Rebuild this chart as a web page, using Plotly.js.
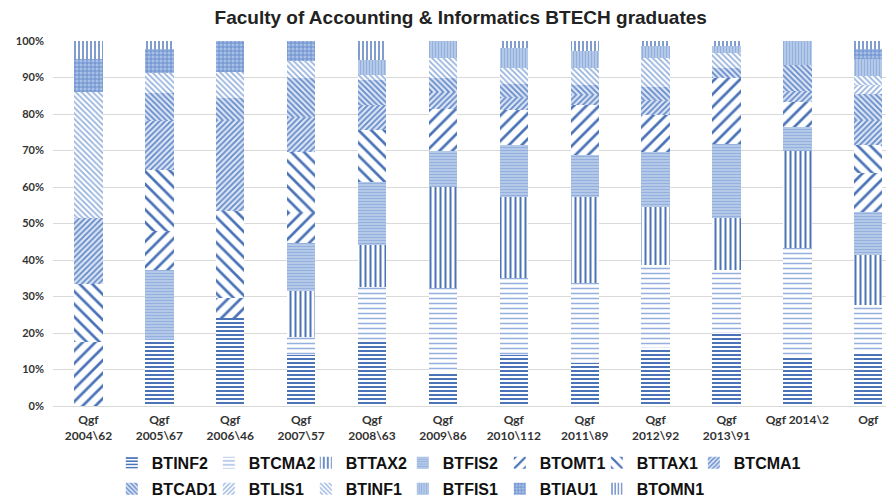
<!DOCTYPE html>
<html>
<head>
<meta charset="utf-8">
<script src="https://cdn.plot.ly/plotly-3.0.1.min.js"></script>
<style>html,body{margin:0;padding:0;background:#fff;}#chart{width:886px;height:498px;}</style>
</head>
<body>
<div id="chart"></div>
<script>
var categories = ["Qgf<br>2004\\62","Qgf<br>2005\\67","Qgf<br>2006\\46","Qgf<br>2007\\57","Qgf<br>2008\\63","Qgf<br>2009\\86","Qgf<br>2010\\112","Qgf<br>2011\\89","Qgf<br>2012\\92","Qgf<br>2013\\91","Qgf 2014\\2","Ogf"];

var BTINF2 = [0, 18, 24, 14, 17.5, 9.3, 14, 11.8, 15.9, 20, 13.4, 14.8];
var BTCMA2 = [0, 0, 0, 4.9, 15.1, 23, 21, 21.9, 22.7, 17.3, 29.9, 12.9];
var BTTAX2 = [0, 0, 0, 12.6, 11.4, 27.7, 22.3, 23.6, 15.9, 14.2, 26.7, 13.7];
var BTFIS2 = [0, 19.3, 0, 13.2, 17.4, 10, 14.2, 11.5, 15.1, 20.4, 6.4, 11.8];
var BTOMT1 = [17.5, 10.7, 5.6, 8.3, 0, 11.4, 9.5, 13.7, 10.1, 18.1, 6.9, 10.6];
var BTTAX1 = [16, 16.7, 23.9, 16.6, 14.2, 0, 0, 0, 0, 0, 0, 7.7];
var BTCMA1 = [18, 13.3, 24.9, 9.6, 6.9, 4.5, 3.6, 2.7, 4, 0, 3, 6.9];
var BTCAD1 = [0, 7.8, 6, 10.6, 6.8, 4, 3.6, 2.8, 3.7, 2.6, 7.1, 7.1];
var BTLIS1 = [0, 0, 0, 0, 0, 0, 0, 0, 0, 0, 0, 2.5];
var BTINF1 = [34.5, 5.4, 7.1, 4.7, 1.4, 5.4, 4.4, 4.6, 7.9, 4.1, 0, 2.4];
var BTFIS1 = [0, 0, 0, 0, 4.1, 4.7, 5.4, 4.7, 3.3, 1.9, 6.6, 4.6];
var BTIAU1 = [9, 6.6, 8.5, 5.5, 0, 0, 0, 0, 0, 0, 0, 2.8];
var BTOMN1 = [5, 2.2, 0, 0, 5.2, 0, 2, 2.7, 1.4, 1.4, 0, 2.2];

var seriesNames = ["BTINF2","BTCMA2","BTTAX2","BTFIS2","BTOMT1","BTTAX1","BTCMA1","BTCAD1","BTLIS1","BTINF1","BTFIS1","BTIAU1","BTOMN1"];
var seriesValues = [BTINF2,BTCMA2,BTTAX2,BTFIS2,BTOMT1,BTTAX1,BTCMA1,BTCAD1,BTLIS1,BTINF1,BTFIS1,BTIAU1,BTOMN1];

var dark = "#4a73b8", mid = "#6489c9", light = "#93b0de", fillBg = "#bfd0ec";
var patterns = [
  {shape:"-", fgcolor:dark, bgcolor:"#ffffff", size:4, solidity:0.5},
  {shape:"-", fgcolor:light, bgcolor:"#ffffff", size:5, solidity:0.3},
  {shape:"|", fgcolor:dark, bgcolor:"#ffffff", size:5, solidity:0.4},
  {shape:"-", fgcolor:light, bgcolor:fillBg, size:3, solidity:0.5},
  {shape:"/", fgcolor:dark, bgcolor:"#ffffff", size:9, solidity:0.3},
  {shape:"\\", fgcolor:dark, bgcolor:"#ffffff", size:9, solidity:0.3},
  {shape:"/", fgcolor:mid, bgcolor:"#dbe5f5", size:4, solidity:0.45},
  {shape:"\\", fgcolor:mid, bgcolor:"#dbe5f5", size:4, solidity:0.45},
  {shape:"/", fgcolor:light, bgcolor:"#ffffff", size:4, solidity:0.4},
  {shape:"\\", fgcolor:light, bgcolor:"#ffffff", size:4, solidity:0.4},
  {shape:"|", fgcolor:light, bgcolor:fillBg, size:3, solidity:0.5},
  {shape:"+", fgcolor:mid, bgcolor:"#a8c0e6", size:4, solidity:0.4},
  {shape:"|", fgcolor:dark, bgcolor:"#ffffff", size:4, solidity:0.35}
];

var traces = seriesNames.map(function(n, i){
  return {
    type:"bar", name:n, x:categories, y:seriesValues[i],
    legend: i < 7 ? "legend" : "legend2",
    marker:{color:patterns[i].fgcolor, line:{width:0}, pattern:Object.assign({fillmode:"replace"}, patterns[i])},
    hoverinfo:"name+y"
  };
});
// invisible spacer entries so the last legend label in each row is not clipped
["legend","legend2"].forEach(function(lg){
  traces.push({type:"scatter", mode:"markers", name:" ", x:[categories[0]], y:[0], legend:lg,
               marker:{size:1, opacity:0, color:"rgba(0,0,0,0)"}, hoverinfo:"skip", cliponaxis:true});
});

var legendFont = {family:"Liberation Sans, Arial, sans-serif", size:16, color:"#111", weight:"bold"};
var layout = {
  width:886, height:498,
  margin:{l:53, r:0, t:41, b:92, autoexpand:false},
  paper_bgcolor:"#ffffff", plot_bgcolor:"#ffffff",
  barmode:"stack", bargap:0.6,
  title:{text:"Faculty of Accounting & Informatics BTECH graduates", x:0.52, xanchor:"center", y:0.965, yanchor:"middle",
         font:{family:"Liberation Sans, Arial, sans-serif", size:19, color:"#222", weight:"bold"}},
  xaxis:{range:[-0.5, 11.25], showgrid:false, zeroline:false, showline:false, ticks:"", tickangle:0, ticklabelstandoff:5,
         tickfont:{family:"Lato, Liberation Sans, sans-serif", size:12, color:"#333", weight:"bold"}},
  yaxis:{range:[0,100], dtick:10, ticksuffix:"%", showgrid:true, gridcolor:"#d9d9d9", gridwidth:1,
         zeroline:true, zerolinecolor:"#d9d9d9", showline:false, ticks:"", ticklabelstandoff:8,
         tickfont:{family:"Lato, Liberation Sans, sans-serif", size:11, color:"#333", weight:"bold"}},
  legend:{orientation:"h", x:0.0706, xanchor:"left", y:-0.156, yanchor:"middle", font:legendFont,
          entrywidth:52, entrywidthmode:"pixels", itemwidth:30, traceorder:"normal", bgcolor:"rgba(0,0,0,0)"},
  legend2:{orientation:"h", x:0.0706, xanchor:"left", y:-0.227, yanchor:"middle", font:legendFont,
          entrywidth:52, entrywidthmode:"pixels", itemwidth:30, traceorder:"normal", bgcolor:"rgba(0,0,0,0)"},
  showlegend:true
};

Plotly.newPlot("chart", traces, layout, {displayModeBar:false, staticPlot:true});
</script>
</body>
</html>
